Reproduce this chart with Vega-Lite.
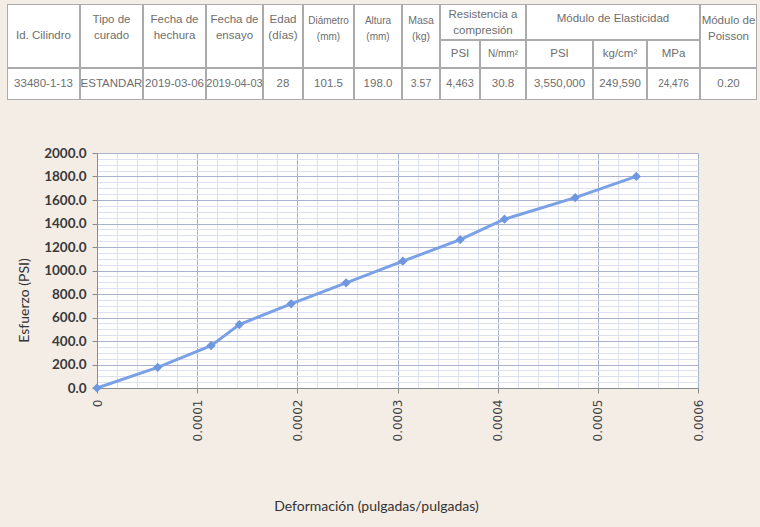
{
  "$schema": "https://vega.github.io/schema/vega-lite/v6.json",
  "background": "#f3ede6",
  "padding": 0,
  "datasets": {
    "ensayo": [
      {"deformacion": 0, "esfuerzo": 0},
      {"deformacion": 0.0000606, "esfuerzo": 176},
      {"deformacion": 0.0001139, "esfuerzo": 361},
      {"deformacion": 0.0001421, "esfuerzo": 540},
      {"deformacion": 0.0001938, "esfuerzo": 716},
      {"deformacion": 0.0002487, "esfuerzo": 895},
      {"deformacion": 0.0003053, "esfuerzo": 1079},
      {"deformacion": 0.0003626, "esfuerzo": 1262},
      {"deformacion": 0.0004068, "esfuerzo": 1437},
      {"deformacion": 0.0004774, "esfuerzo": 1620},
      {"deformacion": 0.0005384, "esfuerzo": 1801}
    ]
  },
  "config": {
    "view": {"fill": "white", "stroke": null},
    "rect": {"fill": "white", "stroke": "#ababab", "strokeWidth": 2},
    "text": {"font": "Liberation Sans", "fontSize": 11.5, "color": "#6e6e6e", "lineBreak": "\n", "lineHeight": 16},
    "concat": {"spacing": 0}
  },
  "columns": 1,
  "align": "none",
  "spacing": 0,
  "concat": [
    {"width": 760, "height": 4, "data": {"values": []}, "mark": "text"},
    {
      "hconcat": [
        {"width": 7, "height": 96, "data": {"values": []}, "mark": "text"},
        {"vconcat": [
          {"width": 73, "height": 64, "data": {"values": [{"t": "Id. Cilindro"}]}, "layer": [{"mark": {"type": "rect", "clip": true}}, {"mark": {"type": "text"}, "encoding": {"text": {"field": "t"}}}]},
          {"width": 73, "height": 32, "data": {"values": [{"t": "33480-1-13"}]}, "layer": [{"mark": {"type": "rect", "clip": true}}, {"mark": {"type": "text"}, "encoding": {"text": {"field": "t"}}}]}
        ]},
        {"vconcat": [
          {"width": 63, "height": 64, "data": {"values": [{"t": "Tipo de\ncurado"}]}, "layer": [{"mark": {"type": "rect", "clip": true}}, {"mark": {"type": "text", "dy": -16}, "encoding": {"text": {"field": "t"}}}]},
          {"width": 63, "height": 32, "data": {"values": [{"t": "ESTANDAR"}]}, "layer": [{"mark": {"type": "rect", "clip": true}}, {"mark": {"type": "text"}, "encoding": {"text": {"field": "t"}}}]}
        ]},
        {"vconcat": [
          {"width": 63, "height": 64, "data": {"values": [{"t": "Fecha de\nhechura"}]}, "layer": [{"mark": {"type": "rect", "clip": true}}, {"mark": {"type": "text", "dy": -16}, "encoding": {"text": {"field": "t"}}}]},
          {"width": 63, "height": 32, "data": {"values": [{"t": "2019-03-06"}]}, "layer": [{"mark": {"type": "rect", "clip": true}}, {"mark": {"type": "text"}, "encoding": {"text": {"field": "t"}}}]}
        ]},
        {"vconcat": [
          {"width": 57, "height": 64, "data": {"values": [{"t": "Fecha de\nensayo"}]}, "layer": [{"mark": {"type": "rect", "clip": true}}, {"mark": {"type": "text", "dy": -16}, "encoding": {"text": {"field": "t"}}}]},
          {"width": 57, "height": 32, "data": {"values": [{"t": "2019-04-03"}]}, "layer": [{"mark": {"type": "rect", "clip": true}}, {"mark": {"type": "text", "fontSize": 11}, "encoding": {"text": {"field": "t"}}}]}
        ]},
        {"vconcat": [
          {"width": 40, "height": 64, "data": {"values": [{"t": "Edad\n(días)"}]}, "layer": [{"mark": {"type": "rect", "clip": true}}, {"mark": {"type": "text", "dy": -16}, "encoding": {"text": {"field": "t"}}}]},
          {"width": 40, "height": 32, "data": {"values": [{"t": "28"}]}, "layer": [{"mark": {"type": "rect", "clip": true}}, {"mark": {"type": "text"}, "encoding": {"text": {"field": "t"}}}]}
        ]},
        {"vconcat": [
          {"width": 51, "height": 64, "data": {"values": [{"t": "Diámetro\n(mm)"}]}, "layer": [{"mark": {"type": "rect", "clip": true}}, {"mark": {"type": "text", "dy": -15, "fontSize": 10}, "encoding": {"text": {"field": "t"}}}]},
          {"width": 51, "height": 32, "data": {"values": [{"t": "101.5"}]}, "layer": [{"mark": {"type": "rect", "clip": true}}, {"mark": {"type": "text"}, "encoding": {"text": {"field": "t"}}}]}
        ]},
        {"vconcat": [
          {"width": 48, "height": 64, "data": {"values": [{"t": "Altura\n(mm)"}]}, "layer": [{"mark": {"type": "rect", "clip": true}}, {"mark": {"type": "text", "dy": -15, "fontSize": 10}, "encoding": {"text": {"field": "t"}}}]},
          {"width": 48, "height": 32, "data": {"values": [{"t": "198.0"}]}, "layer": [{"mark": {"type": "rect", "clip": true}}, {"mark": {"type": "text"}, "encoding": {"text": {"field": "t"}}}]}
        ]},
        {"vconcat": [
          {"width": 38, "height": 64, "data": {"values": [{"t": "Masa\n(kg)"}]}, "layer": [{"mark": {"type": "rect", "clip": true}}, {"mark": {"type": "text", "dy": -15, "fontSize": 10.5}, "encoding": {"text": {"field": "t"}}}]},
          {"width": 38, "height": 32, "data": {"values": [{"t": "3.57"}]}, "layer": [{"mark": {"type": "rect", "clip": true}}, {"mark": {"type": "text", "fontSize": 10.5}, "encoding": {"text": {"field": "t"}}}]}
        ]},
        {"vconcat": [
          {"width": 86, "height": 36, "data": {"values": [{"t": "Resistencia a\ncompresión"}]}, "layer": [{"mark": {"type": "rect", "clip": true}}, {"mark": {"type": "text", "dy": -7}, "encoding": {"text": {"field": "t"}}}]},
          {"hconcat": [
            {"width": 40, "height": 28, "data": {"values": [{"t": "PSI"}]}, "layer": [{"mark": {"type": "rect", "clip": true}}, {"mark": {"type": "text"}, "encoding": {"text": {"field": "t"}}}]},
            {"width": 46, "height": 28, "data": {"values": [{"t": "N/mm²"}]}, "layer": [{"mark": {"type": "rect", "clip": true}}, {"mark": {"type": "text", "fontSize": 10}, "encoding": {"text": {"field": "t"}}}]}
          ]},
          {"hconcat": [
            {"width": 40, "height": 32, "data": {"values": [{"t": "4,463"}]}, "layer": [{"mark": {"type": "rect", "clip": true}}, {"mark": {"type": "text", "fontSize": 11}, "encoding": {"text": {"field": "t"}}}]},
            {"width": 46, "height": 32, "data": {"values": [{"t": "30.8"}]}, "layer": [{"mark": {"type": "rect", "clip": true}}, {"mark": {"type": "text"}, "encoding": {"text": {"field": "t"}}}]}
          ]}
        ]},
        {"vconcat": [
          {"width": 174, "height": 36, "data": {"values": [{"t": "Módulo de Elasticidad"}]}, "layer": [{"mark": {"type": "rect", "clip": true}}, {"mark": {"type": "text", "dy": -3}, "encoding": {"text": {"field": "t"}}}]},
          {"hconcat": [
            {"width": 67, "height": 28, "data": {"values": [{"t": "PSI"}]}, "layer": [{"mark": {"type": "rect", "clip": true}}, {"mark": {"type": "text"}, "encoding": {"text": {"field": "t"}}}]},
            {"width": 54, "height": 28, "data": {"values": [{"t": "kg/cm²"}]}, "layer": [{"mark": {"type": "rect", "clip": true}}, {"mark": {"type": "text"}, "encoding": {"text": {"field": "t"}}}]},
            {"width": 53, "height": 28, "data": {"values": [{"t": "MPa"}]}, "layer": [{"mark": {"type": "rect", "clip": true}}, {"mark": {"type": "text"}, "encoding": {"text": {"field": "t"}}}]}
          ]},
          {"hconcat": [
            {"width": 67, "height": 32, "data": {"values": [{"t": "3,550,000"}]}, "layer": [{"mark": {"type": "rect", "clip": true}}, {"mark": {"type": "text"}, "encoding": {"text": {"field": "t"}}}]},
            {"width": 54, "height": 32, "data": {"values": [{"t": "249,590"}]}, "layer": [{"mark": {"type": "rect", "clip": true}}, {"mark": {"type": "text"}, "encoding": {"text": {"field": "t"}}}]},
            {"width": 53, "height": 32, "data": {"values": [{"t": "24,476"}]}, "layer": [{"mark": {"type": "rect", "clip": true}}, {"mark": {"type": "text", "fontSize": 10}, "encoding": {"text": {"field": "t"}}}]}
          ]}
        ]},
        {"vconcat": [
          {"width": 57, "height": 64, "data": {"values": [{"t": "Módulo de\nPoisson"}]}, "layer": [{"mark": {"type": "rect", "clip": true}}, {"mark": {"type": "text", "dy": -15}, "encoding": {"text": {"field": "t"}}}]},
          {"width": 57, "height": 32, "data": {"values": [{"t": "0.20"}]}, "layer": [{"mark": {"type": "rect", "clip": true}}, {"mark": {"type": "text"}, "encoding": {"text": {"field": "t"}}}]}
        ]},
        {"width": 3, "height": 96, "data": {"values": []}, "mark": "text"}
      ]
    },
    {"width": 760, "height": 10, "data": {"values": []}, "mark": "text"},
    {"width": 760, "height": 35, "data": {"values": []}, "mark": "text", "view": {"fill": null, "stroke": null}},
    {
      "spacing": 0,
      "hconcat": [
        {"width": 16, "height": 10, "data": {"values": []}, "mark": "text", "view": {"fill": null, "stroke": null}},
        {
          "width": 601,
          "height": 235,
          "view": {"fill": "white", "stroke": "#b4bad2"},
          "data": {"name": "ensayo"},
          "layer": [
            {
              "mark": {"type": "line", "color": "#7aa1e6", "strokeWidth": 3},
              "encoding": {
                "x": {"field": "deformacion", "type": "quantitative", "scale": {"domain": [0, 0.0006], "nice": false},
                  "axis": {"orient": "bottom", "grid": true, "gridColor": "#dde1ee", "tickCount": 30, "labels": false, "ticks": false, "domain": false, "title": null}},
                "y": {"field": "esfuerzo", "type": "quantitative", "scale": {"domain": [0, 2000], "nice": false},
                  "axis": {"orient": "left", "grid": true, "gridColor": "#dde1ee", "tickCount": 40, "labels": false, "ticks": false, "domain": false, "title": null}}
              }
            },
            {
              "mark": {"type": "point", "shape": "diamond", "filled": true, "size": 85, "color": "#6f97e0", "opacity": 1},
              "encoding": {
                "x": {"field": "deformacion", "type": "quantitative", "scale": {"domain": [0, 0.0006], "nice": false},
                  "axis": {"orient": "bottom", "grid": true, "gridColor": "#a9b1cc", "values": [0, 0.0001, 0.0002, 0.0003, 0.0004, 0.0005, 0.0006], "format": "~g",
                    "labelAngle": -90, "labelFlush": false, "labelOverlap": false, "labelFont": "DejaVu Sans", "labelFontSize": 12, "labelColor": "#444444", "labelPadding": 6,
                    "tickSize": 5, "tickColor": "#8c8c8c", "domainColor": "#8c8c8c",
                    "title": "Deformación (pulgadas/pulgadas)", "titleFont": "Lato", "titleFontSize": 14, "titleFontWeight": "normal", "titleColor": "#333333",
                    "titleX": 279, "titleY": 118, "titleBaseline": "middle", "titleAlign": "center"}},
                "y": {"field": "esfuerzo", "type": "quantitative", "scale": {"domain": [0, 2000], "nice": false},
                  "axis": {"orient": "left", "grid": true, "gridColor": "#a9b1cc", "values": [0, 200, 400, 600, 800, 1000, 1200, 1400, 1600, 1800, 2000], "format": ".1f",
                    "labelFlush": false, "labelOverlap": false, "labelFont": "Lato", "labelFontSize": 13.5, "labelFontWeight": "bold", "labelColor": "#3a3a3a", "labelPadding": 6,
                    "tickSize": 5, "tickColor": "#8c8c8c", "domainColor": "#8c8c8c",
                    "title": "Esfuerzo (PSI)", "titleFont": "Lato", "titleFontSize": 14, "titleFontWeight": "normal", "titleColor": "#333333",
                    "titleX": -73, "titleY": 147, "titleBaseline": "middle", "titleAlign": "center"}}
              }
            }
          ],
          "resolve": {"axis": {"x": "independent", "y": "independent"}}
        }
      ]
    },
    {"width": 760, "height": 13, "data": {"values": []}, "mark": "text", "view": {"fill": null, "stroke": null}}
  ]
}
